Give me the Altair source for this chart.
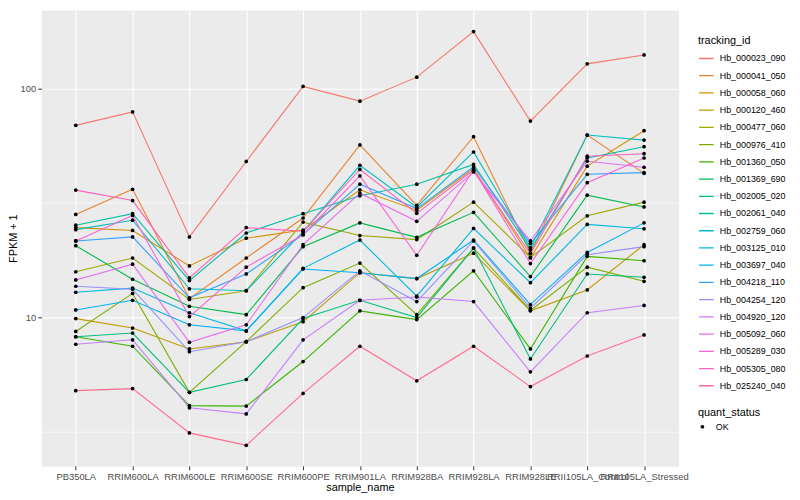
import altair as alt
import pandas as pd

samples = ["PB350LA", "RRIM600LA", "RRIM600LE", "RRIM600SE", "RRIM600PE",
           "RRIM901LA", "RRIM928BA", "RRIM928LA", "RRIM928LE",
           "RRII105LA_Control", "RRII105LA_Stressed"]

tracking_ids = ["Hb_000023_090", "Hb_000041_050", "Hb_000058_060", "Hb_000120_460",
                "Hb_000477_060", "Hb_000976_410", "Hb_001360_050", "Hb_001369_690",
                "Hb_002005_020", "Hb_002061_040", "Hb_002759_060", "Hb_003125_010",
                "Hb_003697_040", "Hb_004218_110", "Hb_004254_120", "Hb_004920_120",
                "Hb_005092_060", "Hb_005289_030", "Hb_005305_080", "Hb_025240_040"]

hb_000023_090 = [69, 79, 22.5, 48, 102, 88, 112, 177, 72, 128, 140]
hb_000041_050 = [28.2, 36.3, 12.1, 18.2, 27.2, 56.7, 30.9, 61.6, 19.1, 62.6, 42.6]
hb_000058_060 = [24.7, 24.0, 16.8, 22.2, 24.1, 36.1, 29.4, 44.7, 18.2, 45.8, 65.4]
hb_000120_460 = [9.9, 9.0, 7.3, 7.85, 9.6, 15.7, 14.8, 19.1, 10.7, 13.2, 20.8]
hb_000477_060 = [15.85, 18.2, 12.0, 13.1, 26.1, 22.8, 21.9, 31.9, 18.3, 27.8, 31.9]
hb_000976_410 = [8.7, 12.75, 4.72, 7.85, 13.5, 17.3, 10.3, 20.1, 10.75, 16.6, 14.4]
hb_001360_050 = [8.25, 7.5, 4.13, 4.11, 6.43, 10.7, 9.8, 16.0, 7.3, 18.5, 17.7]
hb_001369_690 = [20.6, 14.7, 11.2, 10.3, 20.4, 25.9, 22.4, 28.8, 15.1, 34.2, 30.4]
hb_002005_020 = [8.25, 8.56, 4.72, 5.37, 9.9, 11.9, 10.0, 20.1, 6.6, 15.5, 15.0]
hb_002061_040 = [25.3, 28.4, 14.5, 23.4, 28.4, 34.0, 38.2, 46.6, 19.8, 49.7, 55.7]
hb_002759_060 = [24.2, 26.6, 13.35, 13.1, 23.7, 46.2, 30.3, 52.8, 20.2, 62.6, 59.5]
hb_003125_010 = [12.9, 13.45, 10.5, 8.75, 16.4, 21.8, 12.4, 24.5, 14.2, 25.5, 24.4]
hb_003697_040 = [10.8, 11.9, 9.3, 8.75, 16.3, 15.7, 14.8, 21.8, 11.4, 19.25, 25.9]
hb_004218_110 = [21.6, 22.5, 12.2, 15.5, 23.0, 38.2, 29.9, 45.5, 21.05, 42.2, 42.9]
hb_004254_120 = [13.7, 13.3, 7.1, 7.85, 10.0, 16.0, 11.75, 21.6, 11.0, 18.8, 20.4]
hb_004920_120 = [7.65, 8.0, 4.04, 3.8, 8.0, 11.9, 12.3, 11.75, 5.8, 10.5, 11.3]
hb_005092_060 = [14.6, 17.1, 7.8, 9.3, 20.8, 34.9, 26.3, 43.2, 21.6, 48.1, 45.3]
hb_005289_030 = [21.6, 27.9, 10.1, 16.6, 23.0, 41.5, 18.7, 44.1, 17.2, 38.8, 49.7]
hb_005305_080 = [36.0, 32.4, 14.9, 24.7, 23.8, 44.3, 28.5, 44.0, 19.0, 50.6, 51.9]
hb_025240_040 = [4.8, 4.9, 3.14, 2.77, 4.67, 7.5, 5.3, 7.5, 5.0, 6.8, 8.4]

series = [hb_000023_090, hb_000041_050, hb_000058_060, hb_000120_460, hb_000477_060,
          hb_000976_410, hb_001360_050, hb_001369_690, hb_002005_020, hb_002061_040,
          hb_002759_060, hb_003125_010, hb_003697_040, hb_004218_110, hb_004254_120,
          hb_004920_120, hb_005092_060, hb_005289_030, hb_005305_080, hb_025240_040]

colors = ["#F8766D", "#EA8331", "#D89000", "#C09B00", "#A3A500", "#7CAE00", "#39B600",
          "#00BB4E", "#00BF7D", "#00C1A3", "#00BFC4", "#00BAE0", "#00B0F6", "#35A2FF",
          "#9590FF", "#C77CFF", "#E76BF3", "#FA62DB", "#FF62BC", "#FF6C91"]

minor_breaks = [3.1623, 31.623]

rows = []
for tid, vals in zip(tracking_ids, series):
    for i, (s, v) in enumerate(zip(samples, vals)):
        rows.append({"tracking_id": tid, "sample_name": s, "idx": i,
                     "fpkm": v, "quant_status": "OK"})
df = pd.DataFrame(rows)

font = "Liberation Sans"

x_enc = alt.X("sample_name:N", sort=samples,
              scale=alt.Scale(type="point", padding=0.6),
              axis=alt.Axis(title="sample_name", labelAngle=0, labelOverlap=False,
                            labelBound=False, grid=True, titlePadding=0,
                            labelPadding=2))
y_scale = alt.Scale(type="log", domain=[2.255, 218.8], nice=False)
y_enc = alt.Y("fpkm:Q", scale=y_scale,
              axis=alt.Axis(title="FPKM + 1", values=[10, 100], format="d",
                            grid=True, titlePadding=2, labelPadding=2))

minor = alt.Chart(pd.DataFrame({"fpkm": minor_breaks})).mark_rule(
    color="white", strokeWidth=0.6).encode(y=alt.Y("fpkm:Q", scale=y_scale))

lines = alt.Chart(df).mark_line(strokeWidth=1.1).encode(
    x=x_enc, y=y_enc,
    color=alt.Color("tracking_id:N",
                    scale=alt.Scale(domain=tracking_ids, range=colors),
                    legend=alt.Legend(title="tracking_id", orient="none",
                                      legendX=663, legendY=25,
                                      symbolType="stroke", symbolSize=220,
                                      symbolStrokeWidth=1.3, clipHeight=17,
                                      rowPadding=0.4, titlePadding=4,
                                      labelOffset=5, labelFontSize=9,
                                      titleFontSize=11, labelFont=font,
                                      titleFont=font, titleFontWeight="normal",
                                      labelColor="black", titleColor="black")),
    order=alt.Order("idx:Q"))

points = alt.Chart(df).mark_point(filled=True, size=14, opacity=1).encode(
    x=x_enc, y=y_enc,
    shape=alt.Shape("quant_status:N", scale=alt.Scale(range=["circle"]),
                    legend=alt.Legend(title="quant_status", orient="none",
                                      legendX=663, legendY=401, titlePadding=4,
                                      symbolSize=14, symbolFillColor="black",
                                      symbolStrokeColor="black",
                                      labelOffset=9, labelFontSize=9,
                                      titleFontSize=11, labelFont=font,
                                      titleFont=font, titleFontWeight="normal",
                                      labelColor="black", titleColor="black")),
    color=alt.value("black"))

chart = alt.layer(minor, lines, points).properties(
    width=643, height=460,
    autosize=alt.AutoSizeParams(type="none"),
    padding={"left": 34, "top": 0, "right": 115, "bottom": 32},
).configure_view(fill="#EBEBEB", stroke="#EBEBEB").configure_axis(
    domain=False, tickColor="#333333", tickSize=4, tickWidth=1,
    labelColor="#4D4D4D", labelFontSize=9.5, titleFontSize=11,
    titleFontWeight="normal", titleColor="black", labelFont=font,
    titleFont=font, gridColor="white", gridWidth=1.1)

chart.save("out.html", embed_options={"renderer": "svg", "actions": False})
